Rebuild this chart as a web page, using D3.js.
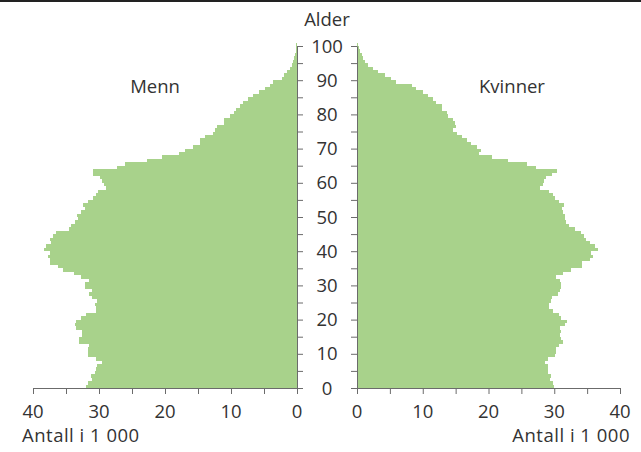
<!DOCTYPE html>
<html><head><meta charset="utf-8">
<script src="https://cdn.jsdelivr.net/npm/d3@7"></script>
<style>
body{margin:0;background:#fff;}
svg text{font-family:"Open Sans",sans-serif;fill:#333;font-weight:400;}
</style>
</head><body>
<svg id="chart" width="641" height="452"></svg>
<script>
// ---- data (thousands of persons by one-year age group) ----
const ages = d3.range(0, 101);
const menn = [
 32.0,31.7,31.0,31.2,30.6,30.4,30.3,29.5,30.5,31.6,
 31.7,31.6,31.5,33.1,33.0,32.6,32.6,33.5,33.6,33.5,
 32.7,32.0,30.5,30.5,30.6,30.3,31.1,31.5,31.1,32.1,
 32.1,31.5,32.7,33.8,35.4,36.2,37.4,37.5,37.7,37.4,
 38.3,38.1,37.3,37.5,36.9,36.5,34.6,34.2,33.6,33.2,
 33.3,32.8,32.1,32.4,31.6,30.9,30.5,30.1,28.9,29.3,
 29.6,29.8,30.9,30.9,27.3,26.1,22.8,20.5,17.9,17.0,
 15.8,14.7,14.7,13.9,12.7,12.4,12.1,11.1,11.1,10.2,
 9.5,9.2,8.6,8.2,7.4,6.6,5.7,4.9,4.1,3.6,
 2.3,1.9,1.5,1.1,0.8,0.65,0.45,0.3,0.15,0.1,
 0.1];
const kvinner = [
 30.0,29.8,29.4,29.5,29.1,29.1,29.0,28.6,29.0,30.1,
 30.2,30.2,30.7,31.3,31.0,30.9,31.0,30.9,31.6,31.9,
 31.1,30.7,29.8,29.2,29.2,29.5,29.6,30.5,30.8,31.0,
 31.1,30.8,30.3,31.3,32.6,34.2,34.2,35.5,35.9,35.6,
 36.6,36.2,35.4,34.9,34.5,34.0,33.1,32.3,31.8,31.7,
 31.6,31.4,31.2,31.5,30.7,30.1,29.8,29.2,27.8,28.3,
 28.4,28.7,29.6,30.4,27.2,25.8,23.0,20.5,18.6,18.9,
 18.2,17.4,16.7,15.9,15.2,14.6,15.1,14.9,14.6,13.9,
 13.7,13.0,12.9,12.0,11.6,10.75,10.1,9.0,8.3,5.9,
 5.2,4.3,3.2,2.5,1.7,1.2,0.95,0.7,0.45,0.3,
 0.1];
const ageTickLabels = [0,10,20,30,40,50,60,70,80,90,100];
const ageTicks = [0,5,10,15,20,25,30,35,40,45,50,55,60,65,70,75,80,85,90,95,100];
const valueTicks = [0,5,10,15,20,25,30,35,40];
const valueTickLabels = [0,10,20,30,40];
const titles = {age:"Alder", left:"Menn", right:"Kvinner", unit:"Antall i 1 000"};

// ---- scales ----
const svg = d3.select("#chart");
const y = d3.scaleLinear().domain([0, 100]).range([388, 46]);
const xL = d3.scaleLinear().domain([0, 40]).range([297, 33]);
const xR = d3.scaleLinear().domain([0, 40]).range([357, 620]);
const green = "#a8d28b";
const axisCol = "#6b6b6b";

// top rule
svg.append("line").attr("x1",0).attr("x2",641).attr("y1",1).attr("y2",1)
  .attr("stroke","#222").attr("stroke-width",2);

// bars
svg.append("g").selectAll("rect").data(ages).join("rect")
  .attr("x", d => xL(menn[d]))
  .attr("width", d => xL(0) - xL(menn[d]))
  .attr("y", d => y(d + 1))
  .attr("height", d => y(d) - y(d + 1))
  .attr("fill", green).attr("shape-rendering","crispEdges");
svg.append("g").selectAll("rect").data(ages).join("rect")
  .attr("x", xR(0))
  .attr("width", d => xR(kvinner[d]) - xR(0))
  .attr("y", d => y(d + 1))
  .attr("height", d => y(d) - y(d + 1))
  .attr("fill", green).attr("shape-rendering","crispEdges");

// center vertical axes
function styleAxis(g){
  g.selectAll("path,line").attr("stroke", axisCol).attr("stroke-width",1);
  g.selectAll("text").remove();
}
svg.append("g").attr("transform",`translate(${xL(0)},0)`)
  .call(d3.axisRight(y).tickValues(ageTicks).tickSize(6).tickSizeOuter(0).tickFormat(""))
  .call(styleAxis);
svg.append("g").attr("transform",`translate(${xR(0)},0)`)
  .call(d3.axisLeft(y).tickValues(ageTicks).tickSize(6).tickSizeOuter(0).tickFormat(""))
  .call(styleAxis);

// age labels
const midX = (xL(0) + xR(0)) / 2;
svg.append("g").selectAll("text").data(ageTickLabels).join("text")
  .attr("x", midX).attr("y", d => y(d)).attr("dy","0.36em")
  .attr("text-anchor","middle").attr("font-size","18.5px").text(d => d);
svg.append("text").attr("x", midX).attr("y", 26).attr("text-anchor","middle")
  .attr("font-size","18.5px").text(titles.age);

// bottom axes
function bottomAxis(scale){
  const g = svg.append("g").attr("transform","translate(0,388)")
    .call(d3.axisBottom(scale).tickValues(valueTicks).tickSize(6).tickSizeOuter(0).tickFormat(""));
  g.selectAll("path,line").attr("stroke", axisCol).attr("stroke-width",1);
  g.selectAll("text").remove();
  g.selectAll("text.lab").data(valueTickLabels).join("text").attr("class","lab")
    .attr("x", d => scale(d)).attr("y", 30).attr("text-anchor","middle")
    .attr("font-size","18.5px").text(d => d);
}
bottomAxis(xL);
bottomAxis(xR);

svg.append("text").attr("x", 22).attr("y", 442).attr("font-size","18.5px")
  .attr("letter-spacing","0.5px").text(titles.unit);
svg.append("text").attr("x", 630).attr("y", 442).attr("text-anchor","end").attr("font-size","18.5px")
  .attr("letter-spacing","0.5px").text(titles.unit);

// series labels
svg.append("text").attr("x", 155).attr("y", 92.5).attr("text-anchor","middle").attr("font-size","18.5px").text(titles.left);
svg.append("text").attr("x", 512).attr("y", 92.5).attr("text-anchor","middle").attr("font-size","18.5px").text(titles.right);
</script>
</body></html>
